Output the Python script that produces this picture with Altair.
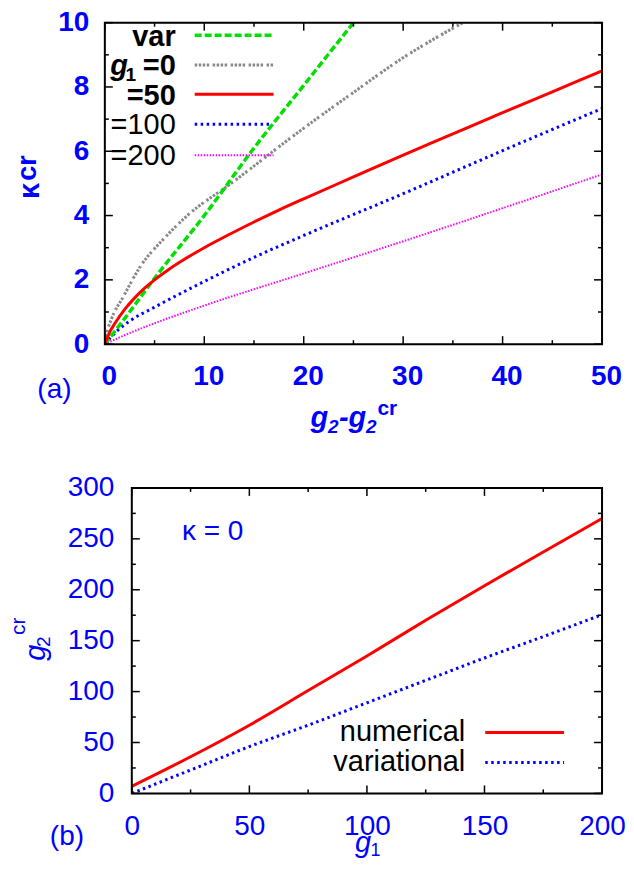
import altair as alt
import pandas as pd

# ---------------- panel (a): kappa_cr vs g2 - g2^cr ----------------
xa_var = [0, 2, 5, 10, 15, 20, 25]
ka_var = [0, 0.8, 2.05, 4.0, 6.1, 8.05, 10.0]
xa_g0 = [0, 0.2, 0.6, 1.9, 3.6, 6.0, 8.3, 12.7, 19.7, 25.0, 29.7, 36.0]
ka_g0 = [0, 0.35, 0.73, 1.5, 2.43, 3.3, 4.0, 5.0, 6.65, 7.83, 8.85, 10.0]
xa_g50 = [0, 0.5, 1, 2, 3, 4, 5, 6.5, 8, 10, 12.5, 15, 17.5, 20, 25, 30, 35, 40, 45, 50]
ka_g50 = [0, 0.38, 0.64, 1.08, 1.44, 1.74, 2.0, 2.34, 2.64, 3.0, 3.41, 3.8, 4.17,
          4.52, 5.2, 5.88, 6.54, 7.2, 7.85, 8.5]
xa_g100 = [0, 1.26, 2.5, 5, 10, 15, 20, 30, 40, 50]
ka_g100 = [0, 0.42, 0.72, 1.15, 1.95, 2.7, 3.38, 4.68, 6.02, 7.33]
xa_g200 = [0, 2, 5, 10, 20, 30, 40, 50]
ka_g200 = [0, 0.28, 0.65, 1.2, 2.2, 3.2, 4.23, 5.28]

xa_major = [0, 10, 20, 30, 40, 50]
xa_minor = [5, 15, 25, 35, 45]
ya_major = [0, 2, 4, 6, 8, 10]
ya_minor = [1, 3, 5, 7, 9]

# ---------------- panel (b): g2^cr vs g1 ----------------
g1_vals = [0, 25, 50, 75, 100, 125, 150, 175, 200]
g2_numerical = [7, 36, 67, 101, 135, 170, 204, 237, 270]
g2_variational = [0, 23, 46, 67, 89, 111, 133, 154, 175.5]

xb_major = [0, 50, 100, 150, 200]
xb_minor = [25, 75, 125, 175]
yb_major = [0, 50, 100, 150, 200, 250, 300]
yb_minor = [25, 75, 125, 175, 225, 275]

FONT = "Liberation Sans"
BLUE = "#0000ff"
GREEN = "#00e000"
GRAY = "#888888"
RED = "#ff0000"
MAGENTA = "#ff00ff"

W = 498            # common view width of both panels
H1, H2 = 322, 306
XB0 = 27           # left edge of panel (b) plot frame inside its view

one = pd.DataFrame({"d": [0]})


def txt(s, x, y, size, color="black", weight="normal", style="normal",
        align="center", baseline="alphabetic", angle=0):
    return alt.Chart(one).mark_text(
        text=s, font=FONT, fontSize=size, color=color, fontWeight=weight,
        fontStyle=style, align=align, baseline=baseline, angle=angle
    ).encode(x=alt.value(x), y=alt.value(y))


def key_line(x1, x2, y, color, dash, width):
    kw = dict(color=color, strokeWidth=width)
    if dash:
        kw["strokeDash"] = dash
    return alt.Chart(one).mark_rule(**kw).encode(
        x=alt.value(x1), x2=alt.value(x2), y=alt.value(y))


def frame(x0, x1, H):
    return alt.Chart(one).mark_rect(filled=False, stroke="black", strokeWidth=2).encode(
        x=alt.value(x0), x2=alt.value(x1), y=alt.value(0), y2=alt.value(H))


def panel(xscale, yscale, xaxis, yaxis, x0, x1, H, xmaj, xmin, ymaj, ymin):
    def X(field):
        return alt.X(field, type="quantitative", scale=xscale, axis=xaxis)

    def Y(field):
        return alt.Y(field, type="quantitative", scale=yscale, axis=yaxis)

    def curve(xs, ys, color, dash, width):
        df = pd.DataFrame({"x": xs, "y": ys})
        kw = dict(color=color, strokeWidth=width, interpolate="monotone", clip=True)
        if dash:
            kw["strokeDash"] = dash
        return alt.Chart(df).mark_line(**kw).encode(x=X("x"), y=Y("y"))

    def xticks(vals, length):
        df = pd.DataFrame({"t": vals})
        r = dict(color="black", strokeWidth=1.5)
        return [
            alt.Chart(df).mark_rule(**r).encode(x=X("t"), y=alt.value(H), y2=alt.value(H - length)),
            alt.Chart(df).mark_rule(**r).encode(x=X("t"), y=alt.value(0), y2=alt.value(length)),
        ]

    def yticks(vals, length):
        df = pd.DataFrame({"t": vals})
        r = dict(color="black", strokeWidth=1.5)
        return [
            alt.Chart(df).mark_rule(**r).encode(y=Y("t"), x=alt.value(x0), x2=alt.value(x0 + length)),
            alt.Chart(df).mark_rule(**r).encode(y=Y("t"), x=alt.value(x1), x2=alt.value(x1 - length)),
        ]

    tl = xticks(xmaj, 8) + xticks(xmin, 4) + yticks(ymaj, 8) + yticks(ymin, 4)
    return curve, tl


axis_common = dict(title=None, domain=False, ticks=False, tickSize=0, grid=False,
                   labelFont=FONT, labelColor=BLUE, labelFontSize=28,
                   labelOverlap=False, labelFlush=False)

# ---------- top panel ----------
xa_scale = alt.Scale(domain=[0, 50], nice=False)
ya_scale = alt.Scale(domain=[0, 10], nice=False)
xa_axis = alt.Axis(values=xa_major, labelFontWeight="bold", labelPadding=18,
                   labelOffset=4, **axis_common)
ya_axis = alt.Axis(values=ya_major, labelFontWeight="bold", labelPadding=16, **axis_common)

curve_a, ticks_a = panel(xa_scale, ya_scale, xa_axis, ya_axis, 0, W, H1,
                         xa_major, xa_minor, ya_major, ya_minor)

top_layers = [
    curve_a(xa_g200, ka_g200, MAGENTA, [1.5, 1.5], 2),
    curve_a(xa_g100, ka_g100, BLUE, [2.5, 3.5], 3),
    curve_a(xa_g0, ka_g0, GRAY, [2.5, 1.5, 2.5, 1.5, 2.5, 1.5, 2.5, 3.5], 3),
    curve_a(xa_var, ka_var, GREEN, [7, 3], 3.5),
    curve_a(xa_g50, ka_g50, RED, None, 3),
] + ticks_a + [frame(0, W, H1)]

rows = [12.7, 42.3, 71.7, 101.7, 132.7]
top_layers += [
    key_line(90, 169, rows[0], GREEN, [7, 3], 3.5),
    key_line(90, 169, rows[1], GRAY, [2.5, 1.5, 2.5, 1.5, 2.5, 1.5, 2.5, 3.5], 3),
    key_line(90, 169, rows[2], RED, None, 3),
    key_line(90, 167, rows[3], BLUE, [2.5, 3.5], 3),
    key_line(90, 169, rows[4], MAGENTA, [1.5, 1.5], 2),
    txt("var", 71, rows[0] + 10.3, 29, weight="bold", align="right"),
    txt("=0", 71, rows[1] + 10.3, 29, weight="bold", align="right"),
    txt("1", 26, rows[1] + 16, 19, weight="bold"),
    txt("g", 14.3, rows[1] + 10.3, 29, weight="bold", style="italic"),
    txt("=50", 71, rows[2] + 10.3, 29, weight="bold", align="right"),
    txt("=100", 71, rows[3] + 10.3, 29, align="right"),
    txt("=200", 71, rows[4] + 10.3, 29, align="right"),
    # y title kappa_cr (rotated)
    txt("κ", -75, 168.5, 29, color=BLUE, weight="bold", baseline="middle", angle=270),
    txt("cr", -77, 145.5, 27, color=BLUE, weight="bold", baseline="middle", angle=270),
    # x title g2 - g2^cr
    txt("g", 206, 405, 29, color=BLUE, weight="bold", style="italic", align="left"),
    txt("2", 223.5, 411, 19, color=BLUE, weight="bold", style="italic", align="left"),
    txt("-", 234.5, 405, 29, color=BLUE, weight="bold", style="italic", align="left"),
    txt("g", 244, 405, 29, color=BLUE, weight="bold", style="italic", align="left"),
    txt("2", 261.5, 411, 19, color=BLUE, weight="bold", style="italic", align="left"),
    txt("cr", 273, 393, 21, color=BLUE, weight="bold", align="left"),
    # panel label
    txt("(a)", -50.5, 376, 28, color=BLUE),
    # invisible extent marker
    alt.Chart(one).mark_rule(color="white", strokeWidth=1).encode(
        x=alt.value(-96), y=alt.value(-12), y2=alt.value(420)),
]
top = alt.layer(*top_layers).properties(width=W, height=H1)

# ---------- bottom panel ----------
xb_scale = alt.Scale(domain=[0, 200], nice=False, range=[XB0, W])
yb_scale = alt.Scale(domain=[0, 300], nice=False)
xb_axis = alt.Axis(values=xb_major, labelFontWeight="normal", labelPadding=19,
                   labelOffset=0, **axis_common)
yb_axis = alt.Axis(values=yb_major, labelFontWeight="normal", labelPadding=18,
                   offset=-XB0, **axis_common)

curve_b, ticks_b = panel(xb_scale, yb_scale, xb_axis, yb_axis, XB0, W, H2,
                         xb_major, xb_minor, yb_major, yb_minor)

bot_layers = [
    curve_b(g1_vals, g2_variational, BLUE, [2.5, 3.5], 3),
    curve_b(g1_vals, g2_numerical, RED, None, 3),
] + ticks_b + [frame(XB0, W, H2)] + [
    key_line(XB0 + 354, XB0 + 433, 245, RED, None, 3),
    key_line(XB0 + 354, XB0 + 433, 275, BLUE, [2.5, 3.5], 3),
    txt("numerical", XB0 + 334, 253.7, 29, align="right"),
    txt("variational", XB0 + 334, 283.7, 29, align="right"),
    txt("κ = 0", XB0 + 81, 52, 28, color=BLUE),
    # y title g2^cr (rotated)
    txt("g", XB0 - 96, 165, 29, color=BLUE, style="italic", baseline="middle", angle=270),
    txt("2", XB0 - 87.5, 154, 19, color=BLUE, baseline="middle", angle=270),
    txt("cr", XB0 - 112.5, 138.5, 21, color=BLUE, baseline="middle", angle=270),
    # x title g1
    txt("g", XB0 + 231.5, 365, 29, color=BLUE, style="italic"),
    txt("1", XB0 + 244, 369, 18, color=BLUE),
    txt("(b)", XB0 - 65, 358, 28, color=BLUE),
    alt.Chart(one).mark_rule(color="white", strokeWidth=1).encode(
        x=alt.value(-96), y=alt.value(-20), y2=alt.value(300)),
]
bottom = alt.layer(*bot_layers).properties(width=W, height=H2)

chart = alt.vconcat(top, bottom, spacing=24).properties(
    padding=0, background="white"
).configure_view(stroke=None)

chart.save("out.html", embed_options={"renderer": "svg", "actions": False})
